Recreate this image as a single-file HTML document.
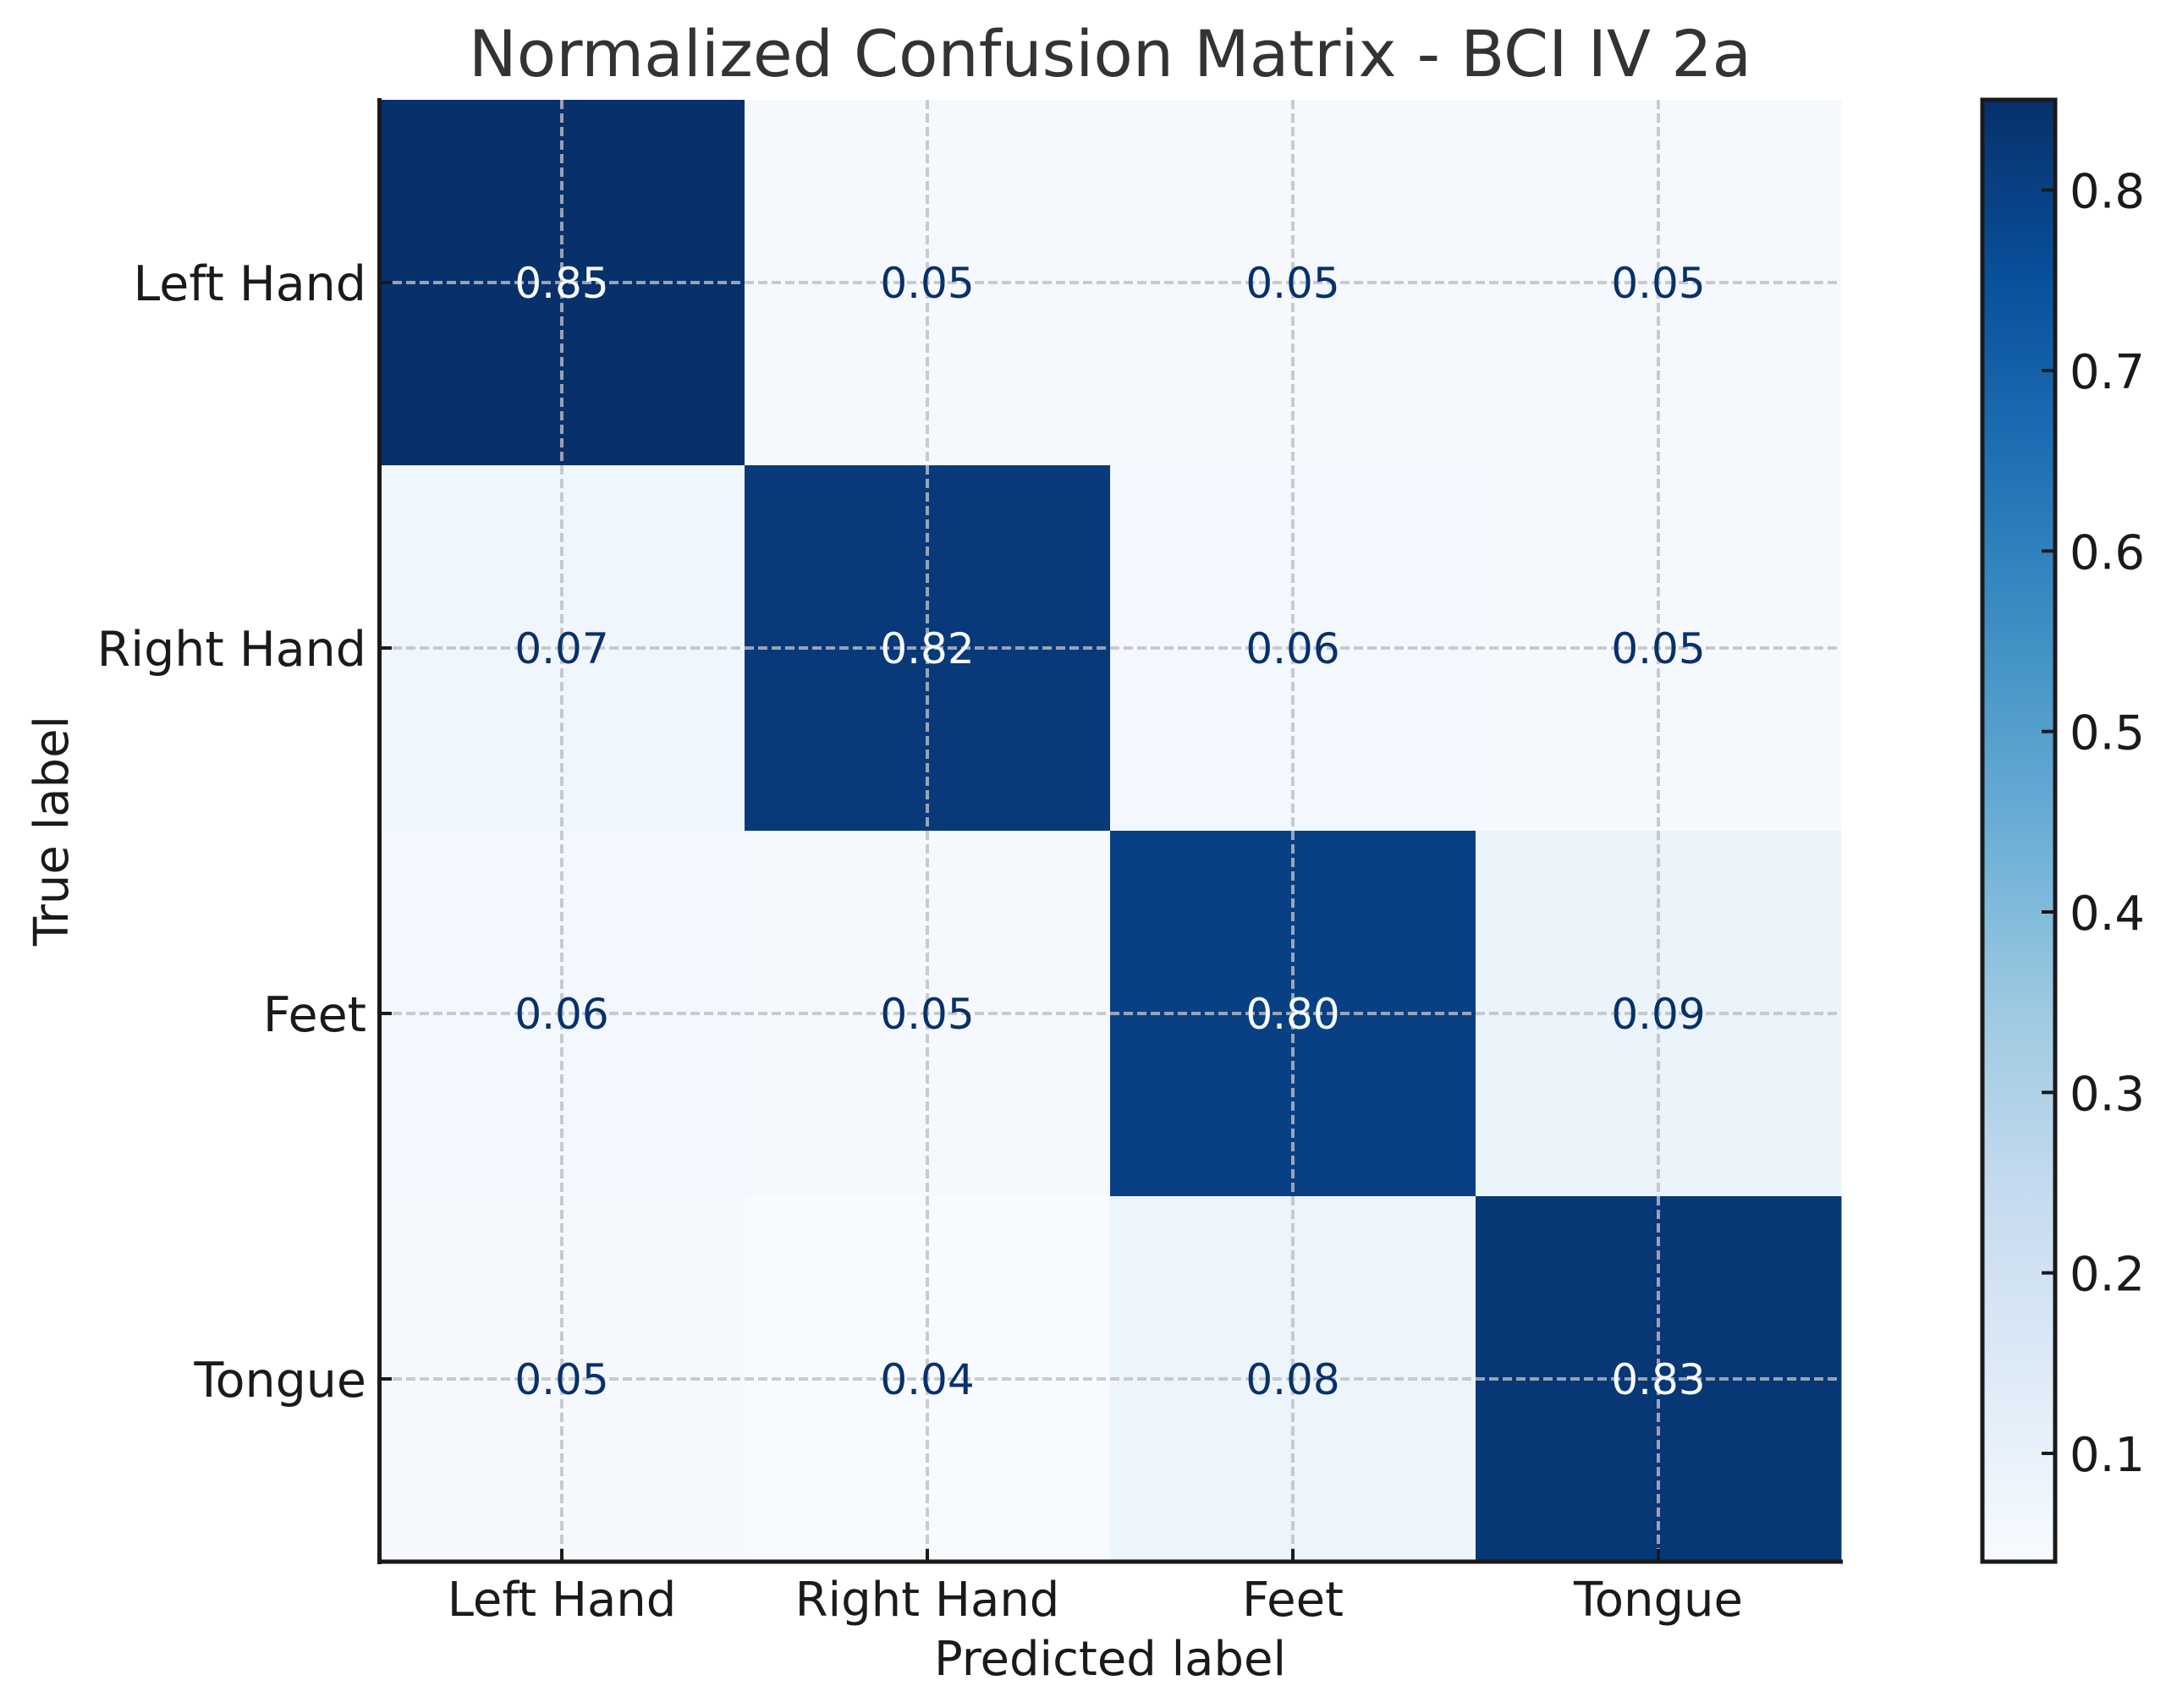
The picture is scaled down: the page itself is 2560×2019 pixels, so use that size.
<!DOCTYPE html>
<html><head><meta charset="utf-8"><style>
html,body{margin:0;padding:0;background:#fff;}
svg{display:block;}
text{font-family:"DejaVu Sans","Liberation Sans",sans-serif;}
</style></head><body>
<svg id="chart" width="2560" height="2019" viewBox="0 0 2560 2019" xmlns="http://www.w3.org/2000/svg">
<defs>
<linearGradient id="cbgrad" x1="0" y1="1" x2="0" y2="0">
<stop offset="0" stop-color="#f7fbff"/><stop offset="0.125" stop-color="#deebf7"/><stop offset="0.25" stop-color="#c6dbef"/><stop offset="0.375" stop-color="#9ecae1"/><stop offset="0.5" stop-color="#6baed6"/><stop offset="0.625" stop-color="#4292c6"/><stop offset="0.75" stop-color="#2171b5"/><stop offset="0.875" stop-color="#08519c"/><stop offset="1" stop-color="#08306b"/>
</linearGradient>
</defs>
<text x="1312" y="90" font-size="76" fill="#333" text-anchor="middle">Normalized Confusion Matrix - BCI IV 2a</text>
<g id="cells"></g>
<g id="grid"></g>
<g id="labels"></g>
<line x1="448.5" y1="116" x2="448.5" y2="1849" stroke="#1a1a1a" stroke-width="5"/>
<line x1="446" y1="1846" x2="2178" y2="1846" stroke="#1a1a1a" stroke-width="5"/>
<g id="axes"></g>
<text x="1312" y="1980" font-size="56" fill="#1a1a1a" text-anchor="middle">Predicted label</text>
<text transform="translate(80,982) rotate(-90)" font-size="56" fill="#1a1a1a" text-anchor="middle">True label</text>
<rect x="2343" y="118" width="86" height="1728" fill="url(#cbgrad)" stroke="#1a1a1a" stroke-width="5"/>
<g id="cbticks"></g>
</svg>
<script>
const classes = ["Left Hand","Right Hand","Feet","Tongue"];
const row0 = [0.85,0.05,0.05,0.05];
const row1 = [0.07,0.82,0.06,0.05];
const row2 = [0.06,0.05,0.80,0.09];
const row3 = [0.05,0.04,0.08,0.83];
const cbTicks = [0.1,0.2,0.3,0.4,0.5,0.6,0.7,0.8];
const vmin = 0.04, vmax = 0.85;

const matrix = [row0,row1,row2,row3];
const NS = "http://www.w3.org/2000/svg";
const PX = 448, PY = 118, PW = 1728, PH = 1728;
const n = classes.length;
const cw = PW / n, ch = PH / n;
const xC = i => PX + cw * (i + 0.5);
const yC = j => PY + ch * (j + 0.5);
const CBY0 = 118, CBH = 1728;
const cbY = v => CBY0 + CBH - (v - vmin) / (vmax - vmin) * CBH;

const stops = [[247,251,255],[222,235,247],[198,219,239],[158,202,225],[107,174,214],[66,146,198],[33,113,181],[8,81,156],[8,48,107]];
function blues(v){
  let t = Math.max(0, Math.min(1, (v - vmin) / (vmax - vmin)));
  const p = t * (stops.length - 1), k = Math.min(stops.length - 2, Math.floor(p)), f = p - k;
  const a = stops[k], b = stops[k+1];
  return "rgb(" + a.map((c,i)=>Math.round(c + (b[i]-c)*f)).join(",") + ")";
}
function mk(tag, attrs, parent){
  const e = document.createElementNS(NS, tag);
  for (const k in attrs) e.setAttribute(k, attrs[k]);
  parent.appendChild(e);
  return e;
}
const gCells = document.getElementById("cells");
const gGrid = document.getElementById("grid");
const gLab = document.getElementById("labels");
const gAx = document.getElementById("axes");
const gCb = document.getElementById("cbticks");

matrix.forEach((row, j) => {
  row.forEach((v, i) => {
    const r = mk("rect", {x: PX + cw*i, y: PY + ch*j, width: cw + 0.5, height: ch + 0.5, fill: blues(v)}, gCells);
    
    
  });
});
for (let i = 0; i < n; i++) {
  const lv = mk("line", {x1: xC(i), x2: xC(i), y1: PY, y2: PY + PH, stroke: "rgba(190,190,195,0.8)", "stroke-width": 4, "stroke-dasharray": "11 5"}, gGrid);
  
  
  const lh = mk("line", {x1: PX, x2: PX + PW, y1: yC(i), y2: yC(i), stroke: "rgba(190,190,195,0.8)", "stroke-width": 4, "stroke-dasharray": "11 5"}, gGrid);
  
  
}
matrix.forEach((row, j) => {
  row.forEach((v, i) => {
    const t = mk("text", {x: xC(i), y: yC(j) + 18, "font-size": 50, "text-anchor": "middle", fill: v > 0.45 ? "#f7fbff" : "#08306b"}, gLab);
    t.textContent = v.toFixed(2);
    
    
  });
});
classes.forEach((c, i) => {
  mk("line", {x1: xC(i), x2: xC(i), y1: PY + PH, y2: PY + PH - 15, stroke: "#1a1a1a", "stroke-width": 4}, gAx);
  const tx = mk("text", {x: xC(i), y: 1910, "font-size": 56, "text-anchor": "middle", fill: "#1a1a1a"}, gAx);
  tx.textContent = c;
  
  
  mk("line", {x1: PX, x2: PX + 15, y1: yC(i), y2: yC(i), stroke: "#1a1a1a", "stroke-width": 4}, gAx);
  const ty = mk("text", {x: 433, y: yC(i) + 21, "font-size": 57, "text-anchor": "end", fill: "#1a1a1a"}, gAx);
  ty.textContent = c;
  
  
});
cbTicks.forEach(v => {
  mk("line", {x1: 2413, x2: 2429, y1: cbY(v), y2: cbY(v), stroke: "#1a1a1a", "stroke-width": 4}, gCb);
  const t = mk("text", {x: 2446, y: cbY(v) + 21, "font-size": 56, fill: "#1a1a1a"}, gCb);
  t.textContent = v.toFixed(1);
  
  
});
</script>
</body></html>
